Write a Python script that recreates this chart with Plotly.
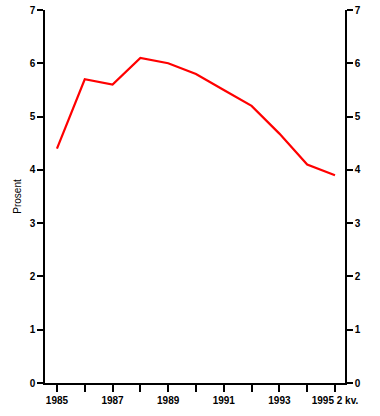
import plotly.graph_objects as go

periods = ["1985", "1986", "1987", "1988", "1989", "1990", "1991", "1992", "1993", "1994", "1995 2 kv."]
values = [4.4, 5.7, 5.6, 6.1, 6.0, 5.8, 5.5, 5.2, 4.68, 4.1, 3.9]
tick_labels = ["1985", "", "1987", "", "1989", "", "1991", "", "1993", "", "1995 2 kv."]
y_ticks = [0, 1, 2, 3, 4, 5, 6, 7]

idx = list(range(len(periods)))

fig = go.Figure()
fig.add_trace(go.Scatter(x=idx, y=values, mode="lines",
                         line=dict(color="#ff0000", width=2.2), showlegend=False,
                         hoverinfo="skip"))
fig.add_trace(go.Scatter(x=idx, y=values, mode="lines", yaxis="y2",
                         line=dict(color="rgba(0,0,0,0)", width=0), showlegend=False,
                         hoverinfo="skip"))

ff = "Liberation Sans, Arial, sans-serif"
font = dict(family=ff, size=10, color="black")
tickfont = dict(family=ff, size=10, color="black", weight="bold")
axis_common = dict(showgrid=False, zeroline=False, showline=True, linecolor="black",
                   linewidth=1.5, ticks="outside", ticklen=6, tickwidth=1.5,
                   tickcolor="black", tickfont=tickfont, automargin=False)

fig.update_layout(
    width=380, height=416,
    margin=dict(l=45, r=35, t=10, b=33),
    plot_bgcolor="white", paper_bgcolor="white",
    font=font,
    xaxis=dict(range=[-0.43, 10.36], tickvals=idx, ticktext=tick_labels,
               showline=True, linecolor="black", linewidth=1.5,
               ticks="outside", ticklen=7, tickwidth=1.5, tickcolor="black",
               showgrid=False, zeroline=False, automargin=False,
               tickfont=tickfont),
    yaxis=dict(range=[0, 7], tickvals=y_ticks,
               title=dict(text="Prosent", standoff=6,
                          font=dict(family=ff, size=10, color="black")),
               **axis_common),
    yaxis2=dict(range=[0, 7], tickvals=y_ticks, overlaying="y", side="right",
                anchor="x", **axis_common),
)

fig.write_html("out.html")
